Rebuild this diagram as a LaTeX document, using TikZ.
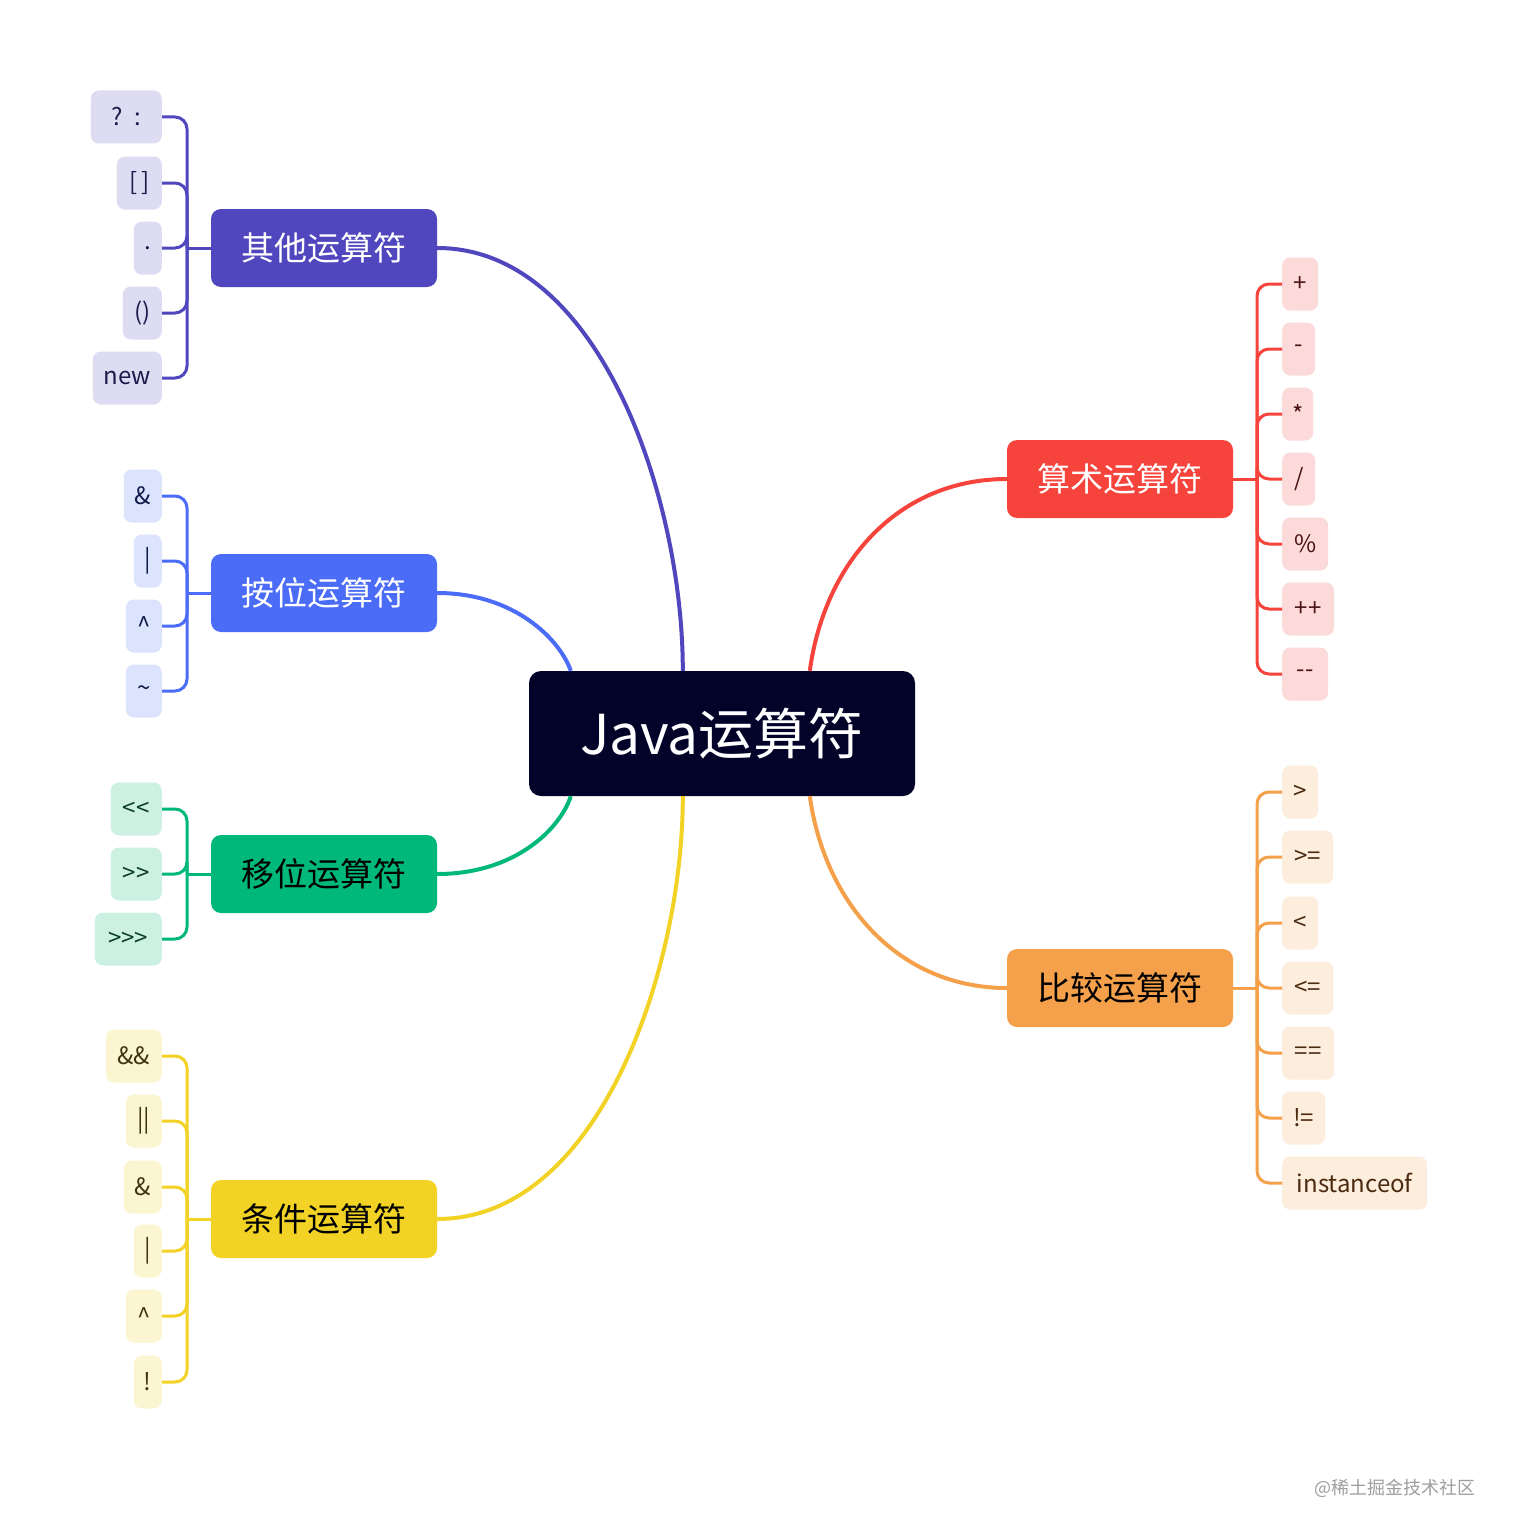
\documentclass[tikz,border=0pt]{standalone}
\usepackage{fontspec}
\newfontfamily\cjk{Noto Sans CJK SC}[Ligatures=TeXOff]
\usetikzlibrary{calc}
\definecolor{centerc}{HTML}{03032A}
\definecolor{oc}{HTML}{5046BE}\definecolor{ol}{HTML}{DEDCF3}\definecolor{ot}{HTML}{1E1B4B}
\definecolor{bc}{HTML}{4A6CF7}\definecolor{bl}{HTML}{DCE3FD}\definecolor{bt}{HTML}{111A4A}
\definecolor{sc}{HTML}{00B87A}\definecolor{sl}{HTML}{CCF1E3}\definecolor{st}{HTML}{0B3D2A}
\definecolor{cc}{HTML}{F2D224}\definecolor{cl}{HTML}{FCF5D2}\definecolor{ct}{HTML}{3D3510}
\definecolor{ac}{HTML}{F6443C}\definecolor{al}{HTML}{FDDADA}\definecolor{at}{HTML}{4A1212}
\definecolor{kc}{HTML}{F5A04A}\definecolor{kl}{HTML}{FDEDDC}\definecolor{kt}{HTML}{4A2A10}
\tikzset{
  leaf/.style={rounded corners=8pt, minimum height=53pt, inner sep=0pt, font=\cjk\fontsize{24}{24}\selectfont},
  leafL/.style={leaf, anchor=east},
  leafR/.style={leaf, anchor=west},
  branch/.style={rounded corners=10pt, minimum width=226pt, minimum height=78pt, inner sep=0pt, font=\cjk\fontsize{33}{33}\selectfont},
  main/.style={line width=4pt},
  bus/.style={line width=3pt, rounded corners=12pt},
  junction/.style={line width=3pt},
}
\begin{document}
\begin{tikzpicture}[x=1pt,y=-1pt]
\useasboundingbox[fill=white] (0,0) rectangle (1512,1536);

% central node
\node[fill=centerc, text=white, rounded corners=12pt, minimum width=386pt, minimum height=125pt, inner sep=0pt, font=\cjk\fontsize{55}{55}\selectfont] (c) at (722,733.5) {Java运算符};

% branch nodes
\node[branch, fill=oc, text=white] (oth) at (324,248) {其他运算符};
\node[branch, fill=bc, text=white] (bit) at (324,593) {按位运算符};
\node[branch, fill=sc, text=black] (shf) at (324,874) {移位运算符};
\node[branch, fill=cc, text=black] (cnd) at (324,1219) {条件运算符};
\node[branch, fill=ac, text=white] (ari) at (1120,479) {算术运算符};
\node[branch, fill=kc, text=black] (cmp) at (1120,988) {比较运算符};

% attachment points on the central node
\coordinate (cTL) at ($(c.north west)+(154pt,0)$);
\coordinate (cTB) at ($(c.north west)+(42pt,0)$);
\coordinate (cTR) at ($(c.north west)+(281pt,0)$);
\coordinate (cBL) at ($(c.south west)+(154pt,0)$);
\coordinate (cBB) at ($(c.south west)+(42pt,0)$);
\coordinate (cBR) at ($(c.south west)+(281pt,0)$);

% main curves
\draw[main, oc] (oth.east) .. controls (600,248) and (683,500) .. (cTL);
\draw[main, bc] (bit.east) .. controls (515,593) and (560,640) .. (cTB);
\draw[main, sc] (cBB) .. controls (560,829) and (515,874) .. (shf.east);
\draw[main, cc] (cBL) .. controls (683,967) and (600,1219) .. (cnd.east);
\draw[main, ac] (cTR) .. controls (825,560) and (900,479) .. (ari.west);
\draw[main, kc] (cBR) .. controls (825,905) and (900,988) .. (cmp.west);

% ---------- 其他运算符 ----------
\node[leafL, fill=ol, text=ot, minimum width=71pt] (o1) at (162,117) {?\ \ :};
\node[leafL, fill=ol, text=ot, minimum width=45pt] (o2) at (162,183) {[\,]};
\node[leafL, fill=ol, text=ot, minimum width=28pt] (o3) at (162,248) {.};
\node[leafL, fill=ol, text=ot, minimum width=39pt] (o4) at (162,313) {()};
\node[leafL, fill=ol, text=ot, minimum width=69pt] (o5) at (162,378) {new};
\coordinate (obus) at (187,248);
\foreach \n in {o1,o2,o3,o4,o5} \draw[bus, oc] (\n.east) -| (obus);
\draw[junction, oc] (obus) -- (oth.west);

% ---------- 按位运算符 ----------
\node[leafL, fill=bl, text=bt, minimum width=38pt] (b1) at (162,496) {\&};
\node[leafL, fill=bl, text=bt, minimum width=28pt] (b2) at (162,561) {|};
\node[leafL, fill=bl, text=bt, minimum width=36pt] (b3) at (162,626) {\textasciicircum};
\node[leafL, fill=bl, text=bt, minimum width=36pt] (b4) at (162,691) {\textasciitilde};
\coordinate (bbus) at (187,593);
\foreach \n in {b1,b2,b3,b4} \draw[bus, bc] (\n.east) -| (bbus);
\draw[junction, bc] (bbus) -- (bit.west);

% ---------- 移位运算符 ----------
\node[leafL, fill=sl, text=st, minimum width=51pt] (s1) at (162,809) {<<};
\node[leafL, fill=sl, text=st, minimum width=51pt] (s2) at (162,874) {>>};
\node[leafL, fill=sl, text=st, minimum width=67pt] (s3) at (162,939) {>>>};
\coordinate (sbus) at (187,874);
\foreach \n in {s1,s2,s3} \draw[bus, sc] (\n.east) -| (sbus);
\draw[junction, sc] (sbus) -- (shf.west);

% ---------- 条件运算符 ----------
\node[leafL, fill=cl, text=ct, minimum width=56pt] (c1) at (162,1056) {\&\&};
\node[leafL, fill=cl, text=ct, minimum width=36pt] (c2) at (162,1121) {||};
\node[leafL, fill=cl, text=ct, minimum width=38pt] (c3) at (162,1187) {\&};
\node[leafL, fill=cl, text=ct, minimum width=28pt] (c4) at (162,1251) {|};
\node[leafL, fill=cl, text=ct, minimum width=36pt] (c5) at (162,1316) {\textasciicircum};
\node[leafL, fill=cl, text=ct, minimum width=28pt] (c6) at (162,1382) {!};
\coordinate (cbus) at (187,1219);
\foreach \n in {c1,c2,c3,c4,c5,c6} \draw[bus, cc] (\n.east) -| (cbus);
\draw[junction, cc] (cbus) -- (cnd.west);

% ---------- 算术运算符 ----------
\node[leafR, fill=al, text=at, minimum width=36pt] (a1) at (1282,284) {+};
\node[leafR, fill=al, text=at, minimum width=33pt] (a2) at (1282,349) {-};
\node[leafR, fill=al, text=at, minimum width=31pt] (a3) at (1282,414) {*};
\node[leafR, fill=al, text=at, minimum width=33pt] (a4) at (1282,479) {/};
\node[leafR, fill=al, text=at, minimum width=46pt] (a5) at (1282,544) {\%};
\node[leafR, fill=al, text=at, minimum width=52pt] (a6) at (1282,609) {++};
\node[leafR, fill=al, text=at, minimum width=46pt] (a7) at (1282,674) {--};
\coordinate (abus) at (1257,479);
\foreach \n in {a1,a2,a3,a4,a5,a6,a7} \draw[bus, ac] (\n.west) -| (abus);
\draw[junction, ac] (ari.east) -- (abus);

% ---------- 比较运算符 ----------
\node[leafR, fill=kl, text=kt, minimum width=36pt] (k1) at (1282,792) {>};
\node[leafR, fill=kl, text=kt, minimum width=51pt] (k2) at (1282,857) {>=};
\node[leafR, fill=kl, text=kt, minimum width=36pt] (k3) at (1282,923) {<};
\node[leafR, fill=kl, text=kt, minimum width=51pt] (k4) at (1282,988) {<=};
\node[leafR, fill=kl, text=kt, minimum width=52pt] (k5) at (1282,1053) {==};
\node[leafR, fill=kl, text=kt, minimum width=43pt] (k6) at (1282,1118) {!=};
\node[leafR, fill=kl, text=kt, minimum width=145pt] (k7) at (1282,1183) {instanceof};
\coordinate (kbus) at (1257,988);
\foreach \n in {k1,k2,k3,k4,k5,k6,k7} \draw[bus, kc] (\n.west) -| (kbus);
\draw[junction, kc] (cmp.east) -- (kbus);

% watermark
\node[font=\cjk\fontsize{18}{18}\selectfont, text=black!38] (wm) at (1395,1488) {@稀土掘金技术社区};
\end{tikzpicture}
\end{document}
